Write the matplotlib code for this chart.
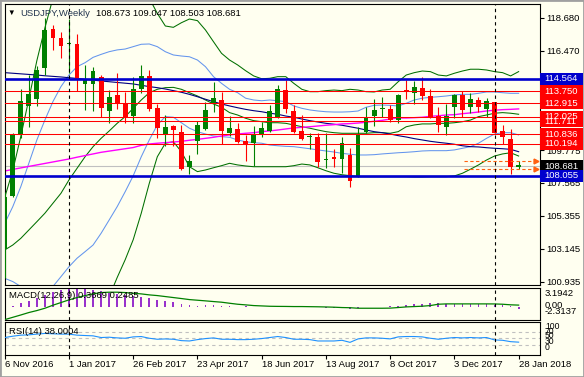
import numpy as np
import pandas as pd
import matplotlib.pyplot as plt
from matplotlib.patches import Rectangle

plt.rcParams['font.family'] = ['Liberation Sans', 'DejaVu Sans']

# weekly candles, 6 Nov 2016 .. 28 Jan 2018
opens = [103.10, 106.70, 110.80, 112.75, 113.25, 115.30, 117.90, 117.35, 116.93, 116.95,
         114.25, 114.20, 114.68, 112.43, 113.49, 112.86, 112.10, 113.87, 114.77, 112.63,
         110.86, 111.42, 111.00, 108.66, 110.40, 111.20, 112.93, 113.15, 110.95, 111.18,
         110.39, 110.24, 110.80, 111.08, 112.03, 113.82, 112.41, 111.06, 110.65, 110.68,
         109.08, 109.33, 109.16, 109.45, 108.04, 111.02, 112.07, 112.56, 112.55, 111.81,
         113.82, 113.64, 113.94, 113.42, 112.07, 111.35, 112.70, 113.49, 112.66, 113.15,
         112.52, 112.99, 111.06, 110.53, 108.673]
highs = [106.95, 110.90, 113.90, 114.83, 115.45, 118.66, 118.20, 117.75, 118.60, 117.57,
         115.50, 115.40, 114.83, 113.82, 114.99, 113.71, 114.72, 115.50, 115.17, 112.86,
         112.14, 111.50, 111.50, 109.45, 111.74, 113.04, 114.38, 113.71, 112.07, 111.58,
         110.80, 111.40, 111.69, 112.81, 114.16, 114.50, 112.81, 112.14, 110.95, 110.91,
         110.95, 109.85, 110.68, 109.90, 111.35, 112.70, 113.22, 113.37, 112.81, 113.55,
         114.50, 114.43, 114.68, 113.87, 112.70, 112.86, 113.53, 113.76, 113.60, 113.33,
         113.27, 113.04, 111.47, 111.18, 109.047]
lows = [101.20, 106.60, 110.60, 111.35, 112.75, 114.80, 116.52, 116.00, 115.00, 113.78,
        112.50, 112.40, 112.03, 111.62, 112.52, 111.62, 111.62, 113.60, 112.41, 110.57,
        110.07, 110.07, 108.44, 108.15, 109.52, 111.10, 112.36, 110.19, 110.75, 110.28,
        109.07, 108.71, 110.64, 111.00, 111.95, 112.26, 110.95, 110.46, 109.83, 108.66,
        108.55, 108.62, 108.22, 107.28, 107.95, 110.95, 111.40, 112.03, 111.69, 111.62,
        113.20, 112.88, 113.15, 111.92, 111.02, 110.80, 111.92, 112.03, 112.26, 112.36,
        112.03, 110.90, 110.19, 108.17, 108.503]
closes = [106.65, 110.80, 113.05, 113.55, 115.20, 117.85, 117.30, 116.80, 117.00, 114.55,
          114.55, 115.10, 112.63, 113.35, 112.86, 111.99, 113.89, 114.77, 112.56, 111.25,
          111.35, 111.13, 108.51, 109.05, 111.47, 112.48, 113.27, 111.08, 111.29, 110.34,
          110.19, 110.80, 111.25, 112.41, 113.89, 112.52, 111.02, 110.53, 110.70, 109.00,
          109.14, 109.20, 110.24, 107.72, 110.80, 111.99, 112.48, 112.62, 111.81, 113.49,
          113.67, 114.00, 113.44, 111.99, 111.47, 112.10, 113.49, 112.48, 113.22, 112.66,
          113.08, 110.95, 110.68, 108.66, 108.681]

# Bollinger 20: 2-dev (green) and 1-dev (blue) bands, middle line
bb_up2 = [106.6, 108.4, 110.7, 113.2, 115.8, 118.0, 120.0, 121.2, 121.9, 122.2,
          122.0, 122.0, 121.9, 121.7, 121.5, 121.1, 120.9, 120.6, 120.0, 118.98,
          118.13, 118.04, 118.35, 118.6, 118.49, 117.86, 117.07, 116.29, 115.84, 115.51,
          115.12, 114.77, 114.58, 114.61, 114.72, 114.72, 114.27, 113.87, 113.71, 113.71,
          113.78, 113.82, 113.78, 113.87, 113.82, 113.71, 113.69, 113.82, 113.87, 114.38,
          114.83, 114.99, 115.1, 115.06, 114.83, 114.77, 114.95, 115.1, 115.22, 115.22,
          115.17, 115.06, 114.99, 114.77, 115.06]
bb_up1 = [104.85, 105.97, 107.32, 108.89, 110.46, 111.8, 113.04, 114.05, 114.83, 115.39,
          115.66, 116.02, 116.22, 116.4, 116.52, 116.58, 116.74, 116.9, 116.92, 116.74,
          116.4, 116.18, 116.11, 116.06, 115.84, 115.39, 114.72, 114.27, 113.87, 113.64,
          113.27, 113.15, 113.1, 113.15, 113.1, 113.04, 112.75, 112.59, 112.48, 112.41,
          112.36, 112.34, 112.34, 112.36, 112.41, 112.66, 112.79, 112.81, 112.79, 112.75,
          112.93, 113.15, 113.27, 113.33, 113.37, 113.42, 113.49, 113.53, 113.53, 113.6,
          113.69, 113.69, 113.64, 113.6, 113.6]
bb_mid = [103.06, 103.39, 103.84, 104.4, 104.96, 105.53, 106.2, 106.87, 107.77, 108.55,
          109.33, 110.01, 110.57, 111.06, 111.58, 112.03, 112.59, 113.15, 113.64, 113.87,
          113.98, 114.0, 113.87, 113.64, 113.42, 113.15, 112.88, 112.66, 112.3, 112.14,
          111.92, 111.76, 111.69, 111.62, 111.62, 111.58, 111.47, 111.35, 111.25, 111.13,
          111.02, 110.95, 110.91, 110.91, 110.91, 110.91, 110.95, 110.95, 110.91, 111.02,
          111.35, 111.47, 111.54, 111.54, 111.58, 111.58, 111.62, 111.69, 111.8, 112.03,
          112.14, 112.26, 112.3, 112.26, 112.19]
bb_lo1 = [101.15, 100.93, 100.6, 100.3, 100.0, 100.0, 100.6, 101.26, 101.93, 102.5,
          102.94, 103.39, 104.18, 105.07, 105.97, 106.98, 108.05, 109.33, 110.46, 111.47,
          112.03, 111.99, 111.62, 111.25, 111.02, 110.86, 110.73, 110.68, 110.64, 110.46,
          110.34, 110.28, 110.24, 110.12, 110.07, 110.03, 110.01, 109.94, 109.87, 109.79,
          109.72, 109.65, 109.56, 109.5, 109.45, 109.45, 109.47, 109.52, 109.56, 109.6,
          109.63, 109.67, 109.72, 109.74, 109.74, 109.74, 109.79, 109.9, 110.01, 110.24,
          110.57, 110.86, 110.95, 110.95, 110.8]
bb_lo2 = [99.24, 98.47, 97.36, 96.2, 95.04, 94.47, 95.0, 95.65, 96.09, 96.45,
          96.55, 96.77, 97.79, 99.9, 101.2, 102.4, 103.75, 105.53, 107.54, 109.33,
          110.24, 110.34, 109.67, 108.66, 108.33, 108.44, 108.59, 108.73, 108.89, 108.78,
          108.71, 108.66, 108.66, 108.66, 108.66, 108.66, 108.73, 108.84, 108.78, 108.59,
          108.39, 108.22, 108.12, 108.06, 107.99, 107.99, 107.99, 107.99, 107.99, 107.99,
          107.99, 107.97, 107.97, 107.99, 107.99, 107.99, 108.04, 108.22, 108.49, 108.78,
          109.11, 109.38, 109.52, 109.6, 109.38]
ma_navy = [114.99, 114.95, 114.91, 114.87, 114.83, 114.78, 114.74, 114.70, 114.65, 114.60,
           114.54, 114.49, 114.43, 114.38, 114.33, 114.28, 114.23, 114.14, 114.05, 113.98,
           113.89, 113.78, 113.67, 113.53, 113.37, 113.2, 113.04, 112.88, 112.75, 112.63,
           112.52, 112.43, 112.36, 112.26, 112.19, 112.07, 111.99, 111.87, 111.76, 111.67,
           111.58, 111.52, 111.45, 111.35, 111.25, 111.13, 111.02, 110.95, 110.86, 110.75,
           110.66, 110.55, 110.46, 110.37, 110.3, 110.24, 110.17, 110.07, 110.01, 109.99,
           109.94, 109.9, 109.87, 109.83, 109.67]
ma_magenta = [108.37, 108.48, 108.58, 108.68, 108.78, 108.88, 108.98, 109.08, 109.18, 109.3,
              109.41, 109.52, 109.63, 109.71, 109.79, 109.87, 109.95, 110.1, 110.19, 110.24,
              110.28, 110.32, 110.37, 110.44, 110.5, 110.57, 110.64, 110.73, 110.8, 110.86,
              110.91, 110.95, 111.02, 111.07, 111.13, 111.2, 111.27, 111.31, 111.35, 111.4,
              111.45, 111.49, 111.54, 111.56, 111.6, 111.65, 111.72, 111.78, 111.87, 111.94,
              111.94, 111.96, 111.99, 112.05, 112.09, 112.14, 112.16, 112.23, 112.28, 112.34,
              112.41, 112.46, 112.5, 112.52, 112.55]

macd_main = [-0.15, 0.15, 0.57, 1.03, 1.5, 2.05, 2.5, 2.85, 3.1, 3.1942,
             3.1, 2.9, 2.65, 2.4, 2.2, 1.95, 1.8, 1.65, 1.4, 1.2,
             1.0, 0.8, 0.5, 0.3, 0.15, 0.2, 0.2, 0.12, 0.06, 0.0,
             0.02, -0.05, -0.03, -0.05, 0.05, 0.05, -0.02, -0.05, -0.05, -0.12,
             -0.2, -0.25, -0.3, -0.38, -0.28, -0.15, -0.08, -0.02, 0.02, 0.1,
             0.22, 0.38, 0.52, 0.6, 0.58, 0.5, 0.52, 0.48, 0.5, 0.46,
             0.47, 0.35, 0.25, 0.12, -0.3669]
macd_signal = [-2.25, -1.85, -1.45, -1.03, -0.69, -0.29, 0.23, 0.69, 1.15, 1.55,
               1.89, 2.18, 2.41, 2.47, 2.47, 2.41, 2.29, 2.18, 2.01, 1.89,
               1.72, 1.55, 1.38, 1.2, 1.09, 0.98, 0.86, 0.75, 0.57, 0.4,
               0.29, 0.17, 0.11, 0.05, 0.03, 0.02, 0.0, 0.0, -0.02, -0.04,
               -0.07, -0.11, -0.17, -0.2, -0.29, -0.29, -0.29, -0.29, -0.27, -0.17,
               -0.06, 0.0, 0.06, 0.17, 0.4, 0.46, 0.46, 0.46, 0.46, 0.46,
               0.46, 0.45, 0.4, 0.3, 0.2485]
rsi = [52.2, 56.3, 59.5, 60.5, 62.7, 64.8, 63.7, 62.7, 62.7, 59.5,
       58.4, 57.4, 52.2, 53.2, 51.1, 50.0, 54.2, 55.3, 50.0, 46.9,
       47.9, 46.9, 42.7, 41.6, 45.8, 49.0, 51.1, 46.9, 46.9, 45.8,
       45.8, 46.9, 49.0, 52.2, 55.3, 52.2, 46.9, 46.9, 45.8, 41.6,
       41.6, 41.6, 43.7, 37.4, 48.0, 51.1, 51.1, 50.0, 48.0, 54.2,
       55.3, 55.3, 54.2, 50.0, 46.9, 50.0, 52.2, 51.1, 52.2, 51.1,
       52.2, 44.8, 43.7, 39.5, 38.0004]

red_levels = [113.750, 112.915, 111.711, 112.025, 110.836, 110.194]
blue_levels = [114.564, 108.055]
bid = 108.681
price_ticks = [118.680, 116.470, 109.775, 107.565, 105.355, 103.145, 100.935]
macd_ticks = [3.1942, 0.0, -2.3137]
rsi_levels = [100, 70, 50, 30, 0]

weeks = pd.date_range('2016-11-06', periods=len(closes), freq='7D')

BG = '#FFFFF0'
W, H = 584, 377
x = np.arange(len(closes))
O, Hh, L, C = map(np.array, (opens, highs, lows, closes))

fig = plt.figure(figsize=(W / 100, H / 100), dpi=100)
fig.patch.set_facecolor(BG)

def box(x0, y0, x1, y1):
    return [x0 / W, 1 - y1 / H, (x1 - x0) / W, (y1 - y0) / H]

ax = fig.add_axes(box(4.5, 4, 540, 285))
ax_m = fig.add_axes(box(4.5, 288, 540, 320))
ax_r = fig.add_axes(box(4.5, 322, 540, 354.5))

for a in (ax, ax_m, ax_r):
    a.set_facecolor(BG)
    a.set_xlim(-0.03, 66.66)
    for s in a.spines.values():
        s.set_linewidth(0.8)
        s.set_color('black')
    a.set_xticks([])

FS = 6.8

# ---- main panel
ax.set_ylim(100.70, 119.61)
ax.yaxis.tick_right()
ax.set_yticks(price_ticks)
ax.set_yticklabels([f'{v:.3f}' for v in price_ticks], fontsize=FS)
ax.tick_params(axis='y', length=3, width=0.8, pad=1.6, direction='out')

up = C >= O
cols = np.where(up, '#008000', '#FF0000')
ax.vlines(x, L, Hh, colors=cols, lw=0.8, zorder=3)
ax.bar(x, np.maximum(np.abs(C - O), 0.07), bottom=np.minimum(O, C), width=0.6,
       color=cols, linewidth=0, zorder=3)

gcol = '#006f00'
ax.plot(x, bb_up2, color=gcol, lw=0.75, zorder=2)
ax.plot(x, bb_mid, color=gcol, lw=0.75, zorder=2)
ax.plot(x, bb_lo2, color=gcol, lw=0.75, zorder=2)
ax.plot(x, bb_up1, color='#6495ED', lw=0.75, zorder=2)
ax.plot(x, bb_lo1, color='#6495ED', lw=0.75, zorder=2)
ax.plot(x, ma_navy, color='#000080', lw=0.8, zorder=2)
ax.plot(x, ma_magenta, color='#FF00FF', lw=1.0, zorder=2)

ax.axhline(bid, color='#C0C0C0', lw=0.8, zorder=1.8)
for v in red_levels:
    ax.axhline(v, color='#FF0000', lw=0.75, zorder=4)
for v in blue_levels:
    ax.axhline(v, color='#0000CD', lw=1.9, zorder=4)

# last bar high / low markers
hl_start = 57.2
for v in (highs[-1], lows[-1]):
    ax.hlines(v, hl_start, 66.2, colors='#FF6010', lw=0.8, linestyles=(0, (3, 2.2)), zorder=4)
    ax.plot([66.2], [v], marker='>', ms=3.5, color='#FF6010', mec='#FF6010', zorder=4,
            clip_on=False)

# price boxes on the right scale
tr = ax.get_yaxis_transform()
bh = 12 / 14.86
bw = 43 / 535.5
def price_box(v, color):
    ax.add_patch(Rectangle((1.0, v - bh / 2), bw, bh, transform=tr, facecolor=color,
                           edgecolor='none', clip_on=False, zorder=6))
    ax.text(1.0 + 4 / 535.5, v, f'{v:.3f}', transform=tr, color='white', fontsize=FS,
            va='center', ha='left', clip_on=False, zorder=7)

for v in red_levels:
    price_box(v, '#FF0000')
price_box(blue_levels[0], '#0000CD')
price_box(bid, 'black')
price_box(blue_levels[1], '#0000CD')

# year separators
sep = [i for i in range(1, len(weeks)) if weeks[i].year != weeks[i - 1].year]
for a in (ax, ax_m, ax_r):
    for i in sep:
        a.axvline(i, color='black', lw=0.8, ls=(0, (3, 3)), zorder=5)

def fx(p):
    return p / W

def fy(p):
    return 1 - p / H

fig.text(fx(7.5), fy(13), '\u25BC', fontsize=5.5, va='center', ha='left', color='black')
fig.text(fx(20.5), fy(13), 'USDJPY,Weekly', fontsize=FS, va='center', ha='left', color='#243650')
fig.text(fx(96.5), fy(13), f'{opens[-1]:.3f} {highs[-1]:.3f} {lows[-1]:.3f} {closes[-1]:.3f}',
         fontsize=FS, va='center', ha='left', color='black')

# ---- MACD panel
ax_m.set_ylim(macd_ticks[-1], macd_ticks[0])
ax_m.set_yticks([])
ax_m.bar(x, macd_main, width=0.22, color='#9932CC', linewidth=0, zorder=2)
ax_m.plot(x, macd_signal, color='#008000', lw=0.9, zorder=3)
fig.text(fx(9), fy(296), f'MACD(12,26,9) {abs(macd_main[-1]):.4f} {macd_signal[-1]:.4f}',
         fontsize=FS, va='center', ha='left', color='black')
for v, py in zip(macd_ticks, (294, 305, 312)):
    fig.text(fx(545), fy(py), f'{v:.4f}' if v != 0 else '0.00', fontsize=FS,
             va='center', ha='left', color='black')

# ---- RSI panel
ax_r.set_ylim(0, 100)
ax_r.set_yticks([])
for v in rsi_levels[1:-1]:
    ax_r.axhline(v, color='#C0C0C0', lw=0.8, ls=(0, (3, 3)), zorder=1)
ax_r.plot(x, rsi, color='#1E90FF', lw=0.8, zorder=3)
fig.text(fx(9), fy(331), f'RSI(14) {rsi[-1]:.4f}', fontsize=FS, va='center', ha='left',
         color='black')
for v, py in zip(rsi_levels, (326.5, 331, 336, 341.5, 348)):
    fig.text(fx(545), fy(py), str(v), fontsize=6.2, va='center', ha='left', color='black')

tick_idx = list(range(0, len(weeks), 8))
ax_r.set_xticks(tick_idx)
ax_r.set_xticklabels([f'{weeks[i].day} {weeks[i].strftime("%b %Y")}' for i in tick_idx],
                     fontsize=FS)
for t in ax_r.get_xticklabels():
    t.set_ha('left')
ax_r.tick_params(axis='x', length=3, width=0.8, pad=1.0, direction='out')

# window frame
fig.add_artist(Rectangle((0, 0), 1, 1, transform=fig.transFigure, fill=False,
                         edgecolor='#A0A0A0', lw=2))

fig.savefig('out.png', dpi=100, facecolor=BG)
